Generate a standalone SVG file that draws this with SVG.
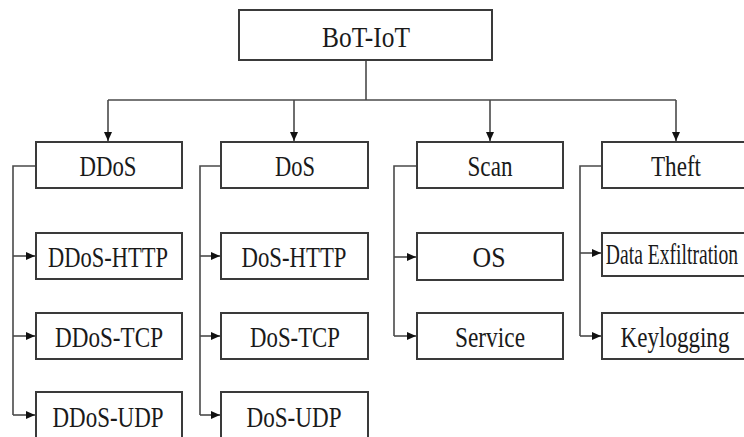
<svg xmlns="http://www.w3.org/2000/svg" width="744" height="437" viewBox="0 0 744 437">
<defs>
<style>
.box{fill:#fff;stroke:#3a3a3a;stroke-width:2}
.ln{fill:none;stroke:#4a4a4a;stroke-width:1.6}
.lbl{font-family:'Liberation Serif','Times New Roman',serif;fill:#1a1a1a;text-anchor:middle;font-size:29px}
</style>
<marker id="ah" markerUnits="userSpaceOnUse" markerWidth="9" markerHeight="8" refX="9" refY="4" orient="auto">
<path d="M0,0 L9,4 L0,8 Z" fill="#111"/>
</marker>
</defs>
<rect width="744" height="437" fill="#fff"/>
<g id="connectors">
<path class="ln" d="M366,60 V100"/>
<path class="ln" d="M108,100 H676"/>
<path class="ln" d="M108,100 V141" marker-end="url(#ah)"/>
<path class="ln" d="M294,100 V141" marker-end="url(#ah)"/>
<path class="ln" d="M490,100 V141" marker-end="url(#ah)"/>
<path class="ln" d="M676,100 V141" marker-end="url(#ah)"/>
<path class="ln" d="M36,166 H13 V415"/>
<path class="ln" d="M13,256 H35" marker-end="url(#ah)"/>
<path class="ln" d="M13,336 H35" marker-end="url(#ah)"/>
<path class="ln" d="M13,415 H35" marker-end="url(#ah)"/>
<path class="ln" d="M221,166 H200 V415"/>
<path class="ln" d="M200,256 H220" marker-end="url(#ah)"/>
<path class="ln" d="M200,336 H220" marker-end="url(#ah)"/>
<path class="ln" d="M200,415 H220" marker-end="url(#ah)"/>
<path class="ln" d="M417,166 H394 V336"/>
<path class="ln" d="M394,257 H416" marker-end="url(#ah)"/>
<path class="ln" d="M394,336 H416" marker-end="url(#ah)"/>
<path class="ln" d="M602,166 H580 V336"/>
<path class="ln" d="M580,253 H601" marker-end="url(#ah)"/>
<path class="ln" d="M580,336 H601" marker-end="url(#ah)"/>
</g>
<g id="botiot"><rect class="box" x="239" y="10" width="253" height="50"/><text class="lbl" x="366" y="47" font-size="33" textLength="88" lengthAdjust="spacingAndGlyphs">BoT-IoT</text></g>
<g id="ddos"><rect class="box" x="36" y="142" width="146" height="46"/><text class="lbl" x="108" y="176" textLength="57" lengthAdjust="spacingAndGlyphs">DDoS</text></g>
<g id="dos"><rect class="box" x="221" y="142" width="147" height="46"/><text class="lbl" x="295" y="176" textLength="40" lengthAdjust="spacingAndGlyphs">DoS</text></g>
<g id="scan"><rect class="box" x="417" y="142" width="146" height="46"/><text class="lbl" x="490" y="176" textLength="45" lengthAdjust="spacingAndGlyphs">Scan</text></g>
<g id="theft"><rect class="box" x="602" y="142" width="150" height="46"/><text class="lbl" x="676" y="176" textLength="50" lengthAdjust="spacingAndGlyphs">Theft</text></g>
<g id="ddos-http"><rect class="box" x="36" y="233" width="146" height="46"/><text class="lbl" x="108" y="267" textLength="120" lengthAdjust="spacingAndGlyphs">DDoS-HTTP</text></g>
<g id="ddos-tcp"><rect class="box" x="36" y="313" width="146" height="46"/><text class="lbl" x="109" y="347" textLength="108" lengthAdjust="spacingAndGlyphs">DDoS-TCP</text></g>
<g id="ddos-udp"><rect class="box" x="36" y="392" width="146" height="50"/><text class="lbl" x="108" y="427" textLength="111" lengthAdjust="spacingAndGlyphs">DDoS-UDP</text></g>
<g id="dos-http"><rect class="box" x="221" y="233" width="147" height="46"/><text class="lbl" x="294" y="267" textLength="105" lengthAdjust="spacingAndGlyphs">DoS-HTTP</text></g>
<g id="dos-tcp"><rect class="box" x="221" y="313" width="147" height="46"/><text class="lbl" x="295" y="347" textLength="90" lengthAdjust="spacingAndGlyphs">DoS-TCP</text></g>
<g id="dos-udp"><rect class="box" x="221" y="392" width="147" height="50"/><text class="lbl" x="294" y="427" textLength="95" lengthAdjust="spacingAndGlyphs">DoS-UDP</text></g>
<g id="os"><rect class="box" x="417" y="233" width="146" height="47"/><text class="lbl" x="489" y="267" textLength="33" lengthAdjust="spacingAndGlyphs">OS</text></g>
<g id="service"><rect class="box" x="417" y="313" width="146" height="46"/><text class="lbl" x="490" y="347" textLength="70" lengthAdjust="spacingAndGlyphs">Service</text></g>
<g id="data-exfiltration"><rect class="box" x="602" y="233" width="150" height="43"/><text class="lbl" transform="translate(672,264) scale(0.9,1)" x="0" y="0" font-size="21" textLength="147" lengthAdjust="spacingAndGlyphs">Data Exfiltration</text></g>
<g id="keylogging"><rect class="box" x="602" y="313" width="150" height="46"/><text class="lbl" transform="translate(675,347) scale(0.8,1)" x="0" y="0" textLength="136" lengthAdjust="spacingAndGlyphs">Keylogging</text></g>
</svg>
